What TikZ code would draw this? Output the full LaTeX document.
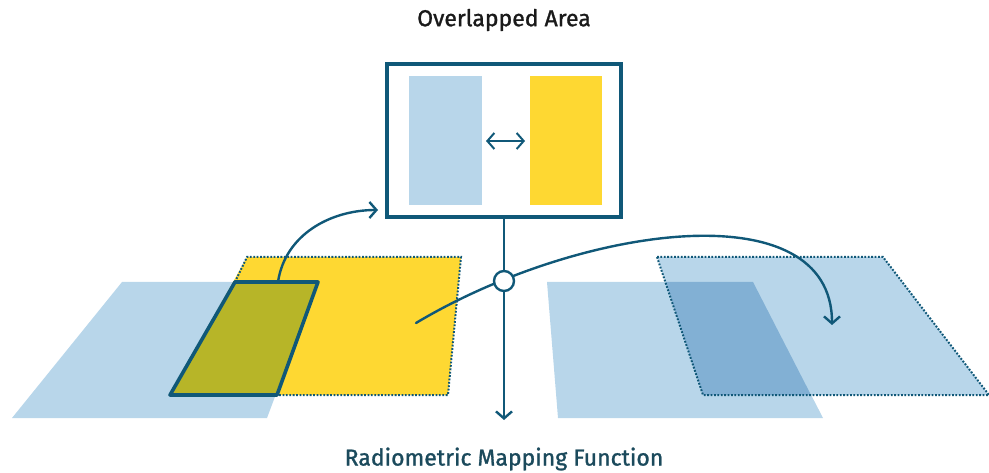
\documentclass[tikz,border=0pt]{standalone}
\usepackage{fontspec}
\setmainfont{Fira Sans}
\newfontfamily\medfont[FakeBold=1.2]{Fira Sans}
\usetikzlibrary{arrows.meta}
\definecolor{teal}{RGB}{16,88,120}
\definecolor{lblue}{RGB}{184,214,234}
\definecolor{dblue}{RGB}{130,176,212}
\definecolor{yell}{RGB}{254,216,50}
\definecolor{olive}{RGB}{183,181,40}
\definecolor{txtdark}{RGB}{26,26,26}
\definecolor{txtteal}{RGB}{27,74,92}
\tikzset{
  conn/.style={draw=teal, line width=2.4pt, line cap=round},
  tip/.style={-{Straight Barb[length=7pt,width=16pt,line width=2.4pt]}},
  dotb/.style={draw=teal, line width=2pt, dash pattern=on 1.8pt off 1.6pt},
  label/.style={font=\medfont\fontsize{23}{26}\selectfont}
}
\begin{document}
\begin{tikzpicture}[x=1pt,y=-1pt]
\useasboundingbox (0,0) rectangle (989,473);
% left group
\fill[lblue] (12,418) -- (267,418) -- (318,282) -- (122,282) -- cycle;
\fill[yell] (247,257) -- (461,257) -- (448,395) -- (170,395) -- cycle;
\draw[dotb] (235,282) -- (247,257) -- (461,257) -- (448,395) -- (277,395);
\filldraw[fill=olive, draw=teal, line width=3.6pt, line join=round] (170,395) -- (277,395) -- (318,282) -- (235,282) -- cycle;
% right group
\fill[lblue] (547,282) -- (753,282) -- (823,418) -- (558,418) -- cycle;
\fill[lblue] (657,257) -- (883,257) -- (989,395) -- (703,395) -- cycle;
\fill[dblue] (665.3,282) -- (753,282) -- (811,395) -- (703,395) -- cycle;
\draw[dotb] (657,257) -- (883,257) -- (989,395) -- (703,395) -- cycle;
% box
\node[draw=teal, line width=3.6pt, minimum width=234pt, minimum height=153pt, inner sep=0pt] (box) at (504,140.5) {};
\fill[lblue] (409,76) rectangle (482,205);
\fill[yell] (530,76) rectangle (602,205);
\coordinate (dl) at (486,141);
\coordinate (dr) at (525,141);
\draw[conn, {Straight Barb[length=7pt,width=16pt,line width=2pt]}-{Straight Barb[length=7pt,width=16pt,line width=2pt]}, line width=2pt] (dl) -- (dr);
% connectors
\coordinate (olivetop) at (278,282);
\coordinate (boxin) at (378,210);
\coordinate (ystart) at (416,323);
\coordinate (rend) at (832,325);
\coordinate (vend) at (504,420);
\draw[conn, tip] (olivetop) .. controls (285,235) and (330,210) .. (boxin);
\draw[conn, tip] (ystart) .. controls (580,225) and (832,190) .. (rend);
\draw[conn] (box.south) -- (504,281);
\node[circle, draw=teal, fill=white, line width=2.4pt, minimum size=20pt, inner sep=0pt] (circ) at (504,281) {};
\draw[conn, tip] (circ.south) -- (vend);
% labels
\node[label, text=txtdark] (t1) at (504,20) {Overlapped Area};
\node[label, text=txtteal] (t2) at (504,459) {Radiometric Mapping Function};
\end{tikzpicture}
\end{document}
